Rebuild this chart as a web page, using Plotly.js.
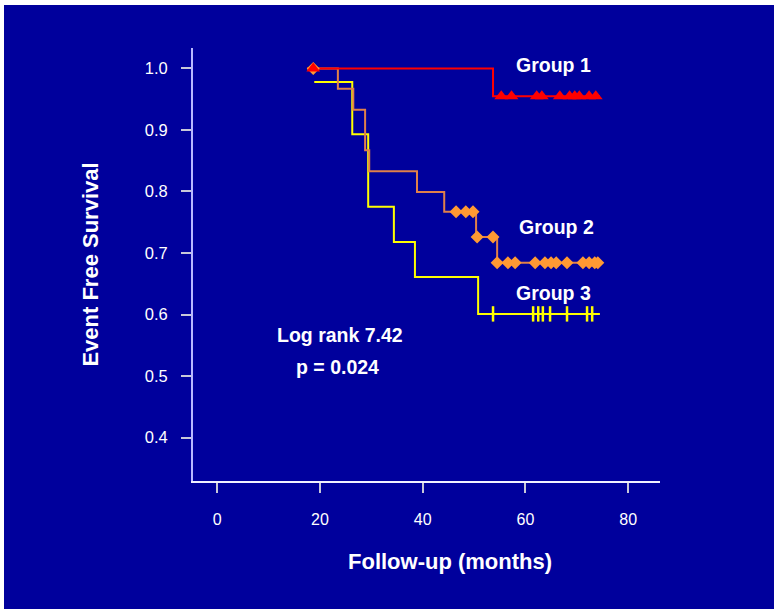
<!DOCTYPE html>
<html>
<head>
<meta charset="utf-8">
<script src="https://cdn.plot.ly/plotly-3.0.1.min.js"></script>
<style>
  html, body { margin: 0; padding: 0; background: #ffffff; }
  #chart { position: absolute; left: 4px; top: 5px; width: 770px; height: 604px; }
</style>
</head>
<body>
<div id="chart"></div>
<script>
// Group 1 (step points: time in months, survival)
const g1Time = [17.5, 53.7, 74.5];
const g1Surv = [1.0, 0.955, 0.955];
const g1CensorTime = [18.7, 55.3, 57.3, 62.2, 63.2, 66.7, 68.6, 69.6, 70.5, 72.4, 73.7];
const g1CensorSurv = [1.0, 0.955, 0.955, 0.955, 0.955, 0.955, 0.955, 0.955, 0.955, 0.955, 0.955];

// Group 2
const g2Time = [17.5, 23.5, 26.5, 28.8, 29.6, 38.9, 44.2, 50.4, 54.5, 74.5];
const g2Surv = [1.0, 0.967, 0.933, 0.867, 0.833, 0.799, 0.767, 0.726, 0.684, 0.684];
const g2CensorTime = [18.7, 46.5, 48.4, 49.8, 50.6, 53.7, 54.5, 56.6, 58.0, 61.9, 63.8, 65.0, 66.0, 68.1, 71.2, 72.4, 73.5, 74.1];
const g2CensorSurv = [1.0, 0.767, 0.767, 0.767, 0.726, 0.726, 0.684, 0.684, 0.684, 0.684, 0.684, 0.684, 0.684, 0.684, 0.684, 0.684, 0.684, 0.684];

// Group 3
const g3Time = [18.9, 26.3, 29.4, 34.4, 38.5, 50.8, 74.5];
const g3Surv = [0.978, 0.893, 0.775, 0.718, 0.661, 0.601, 0.601];
const g3CensorTime = [53.7, 61.5, 62.5, 63.4, 64.8, 68.1, 72.0, 73.0];
const g3CensorSurv = [0.601, 0.601, 0.601, 0.601, 0.601, 0.601, 0.601, 0.601];

// Tick values / labels
const xTickVals = [0, 20, 40, 60, 80];
const xTickText = ['0', '20', '40', '60', '80'];
const yTickVals = [0.4, 0.5, 0.6, 0.7, 0.8, 0.9, 1.0];
const yTickText = ['0.4', '0.5', '0.6', '0.7', '0.8', '0.9', '1.0'];

const groupLabels = ['Group 1', 'Group 2', 'Group 3'];
const statText = ['Log rank 7.42', 'p = 0.024'];
const xTitle = 'Follow-up (months)';
const yTitle = 'Event Free Survival';

const RED = '#ff0000', ORANGE_LINE = '#e0804a', ORANGE = '#ff9933', YELLOW = '#ffff00';
const BG = '#00009c';
const FONT = 'Arial, "Liberation Sans", sans-serif';

const traces = [
  { x: g3Time, y: g3Surv, mode: 'lines', line: { shape: 'hv', color: YELLOW, width: 2 }, hoverinfo: 'skip' },
  { x: g2Time, y: g2Surv, mode: 'lines', line: { shape: 'hv', color: ORANGE_LINE, width: 2 }, hoverinfo: 'skip' },
  { x: g1Time, y: g1Surv, mode: 'lines', line: { shape: 'hv', color: RED, width: 2 }, hoverinfo: 'skip' },
  { x: g3CensorTime, y: g3CensorSurv, mode: 'markers',
    marker: { symbol: 'line-ns', size: 11, line: { color: YELLOW, width: 2.5 } }, hoverinfo: 'skip' },
  { x: g2CensorTime, y: g2CensorSurv, mode: 'markers',
    marker: { symbol: 'diamond', size: 10, color: ORANGE, line: { width: 0 } }, hoverinfo: 'skip' },
  { x: g1CensorTime, y: g1CensorSurv, mode: 'markers',
    marker: { symbol: 'triangle-up', size: 12, color: RED, line: { width: 0 } }, hoverinfo: 'skip' }
];

const annFont = { family: FONT, size: 19.5, color: '#ffffff', weight: 'bold' };
const annotations = [
  { x: 65.4, y: 1.006, text: groupLabels[0] },
  { x: 66.1, y: 0.742, text: groupLabels[1] },
  { x: 65.4, y: 0.635, text: groupLabels[2] },
  { x: 23.9, y: 0.567, text: statText[0] },
  { x: 23.5, y: 0.515, text: statText[1] }
].map(a => Object.assign(a, { xref: 'x', yref: 'y', showarrow: false, font: annFont, xanchor: 'center', yanchor: 'middle' }));

annotations.push({
  xref: 'paper', yref: 'paper', x: 0.550, y: -0.187, xanchor: 'center', yanchor: 'middle',
  showarrow: false, text: xTitle,
  font: { family: FONT, size: 22, color: '#ffffff', weight: 'bold' }
});

const layout = {
  width: 770, height: 604,
  paper_bgcolor: BG, plot_bgcolor: BG,
  margin: { l: 189, r: 114, t: 43, b: 128 },
  showlegend: false,
  font: { family: FONT, color: '#ffffff' },
  xaxis: {
    range: [-4.7, 86.2],
    tickvals: xTickVals, ticktext: xTickText,
    showgrid: false, zeroline: false,
    showline: true, linecolor: '#f0f0ff', linewidth: 2,
    ticks: 'outside', ticklen: 10, tickwidth: 2, tickcolor: '#c8c8d8',
    ticklabelstandoff: 13,
    tickfont: { family: FONT, size: 16, color: '#ffffff' },
    fixedrange: true
  },
  yaxis: {
    range: [0.3293, 1.0333],
    tickvals: yTickVals, ticktext: yTickText,
    showgrid: false, zeroline: false,
    showline: true, linecolor: '#b8b8ff', linewidth: 2,
    ticks: 'outside', ticklen: 10, tickwidth: 2, tickcolor: '#c8c8d8',
    ticklabelstandoff: 10,
    tickfont: { family: FONT, size: 16.5, color: '#ffffff' },
    title: { text: yTitle, font: { family: FONT, size: 22, color: '#ffffff', weight: 'bold' }, standoff: 40 },
    fixedrange: true
  },
  annotations: annotations
};

Plotly.newPlot('chart', traces, layout, { displayModeBar: false, staticPlot: true });
</script>
</body>
</html>
